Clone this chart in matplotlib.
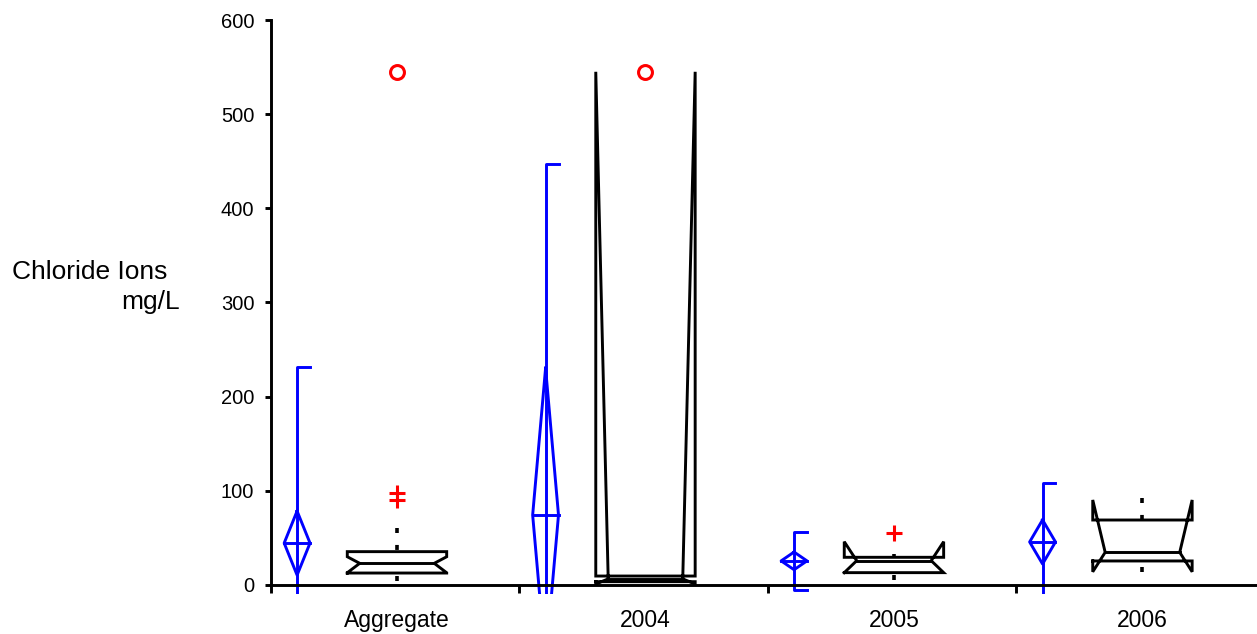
import matplotlib
matplotlib.use("Agg")
import matplotlib.pyplot as plt

plt.rcParams['font.family'] = ['Liberation Sans', 'DejaVu Sans']
plt.rcParams['lines.scale_dashes'] = False

groups = ['Aggregate', '2004', '2005', '2006']

# mean diamonds (blue): mean, diamond half height, whisker half length
means = [44.5, 74.3, 25.6, 45.7]
ci_half = [34.0, 156.0, 9.4, 23.4]
sd_half = [187.5, 372.7, 30.5, 62.3]

# notched boxes (black)
q1 = [12.7, 3.5, 13.1, 25.5]
medians = [23.0, 6.5, 25.8, 34.7]
q3 = [35.4, 9.5, 29.4, 69.0]
notch_lo = [13.0, 1.0, 13.1, 14.0]
notch_hi = [30.0, 545.0, 46.0, 90.3]
whisker_lo = [4.0, 3.0, 5.0, 14.0]
whisker_hi = [60.0, 10.0, 33.0, 92.0]

# outliers
near_out = [[90.5, 98.0], [], [55.5], []]
far_out = [[545.0], [545.0], [], []]

blue = '#0000ff'
lw = 2.1

fig = plt.figure(figsize=(12.57, 6.34), dpi=100)
ax = fig.add_axes([271 / 1257, 1 - 594.4 / 634, 1 - 271 / 1257, (594.4 - 20) / 634])

for i in range(len(groups)):
    # blue mean diamond
    bx = i + 0.105
    dw = 0.052
    m, c, s = means[i], ci_half[i], sd_half[i]
    ax.plot([bx, bx + dw, bx, bx - dw, bx], [m + c, m, m - c, m, m + c], color=blue, lw=lw)
    ax.plot([bx - dw, bx + dw], [m, m], color=blue, lw=lw)
    ax.plot([bx + dw, bx, bx, bx + dw], [m + s, m + s, m - s, m - s], color=blue, lw=lw)

    # notched box
    cx = i + 0.507
    hw = 0.2
    ins = 0.05
    L, R = cx - hw, cx + hw
    xs = [L, L, L + ins, L, L, R, R, R - ins, R, R, L]
    ys = [q1[i], notch_lo[i], medians[i], notch_hi[i], q3[i], q3[i], notch_hi[i], medians[i], notch_lo[i], q1[i], q1[i]]
    ax.plot(xs, ys, color='black', lw=lw, solid_joinstyle='miter')
    ax.plot([L + ins, R - ins], [medians[i], medians[i]], color='black', lw=lw)

    # whiskers
    ax.plot([cx, cx], [whisker_hi[i], q3[i]], color='black', lw=lw + 0.5, dashes=(3.6, 8.6))
    ax.plot([cx, cx], [whisker_lo[i], q1[i]], color='black', lw=lw + 0.5, dashes=(3.6, 8.6))

    # outliers
    for v in near_out[i]:
        ax.plot(cx, v, marker='+', color='red', ms=12, mew=2.2, ls='none')
    for v in far_out[i]:
        ax.plot(cx, v, marker='o', mfc='none', mec='red', ms=10, mew=2.2, ls='none')

ax.set_xlim(0, 3.968)
ax.set_ylim(-10, 600)

ax.spines['top'].set_visible(False)
ax.spines['right'].set_visible(False)
ax.spines['bottom'].set_position(('data', 0))
ax.spines['left'].set_bounds(0, 600)
ax.spines['left'].set_linewidth(lw)
ax.spines['bottom'].set_linewidth(lw)

ax.set_yticks(range(0, 601, 100))
ax.tick_params(axis='y', direction='out', length=4, width=lw, labelsize=14.5, pad=8)

ax.set_xticks([0, 1, 2, 3])
ax.set_xticklabels([])
ax.set_xticks([0.507, 1.507, 2.507, 3.507], minor=True)
ax.set_xticklabels(groups, minor=True)
ax.tick_params(axis='x', which='major', direction='out', length=6, width=lw)
ax.tick_params(axis='x', which='minor', length=0, labelsize=16.5, pad=17)

fig.text(12 / 1257, 1 - 272 / 634, 'Chloride Ions', fontsize=19, ha='left', va='center')
fig.text(180 / 1257, 1 - 302 / 634, 'mg/L', fontsize=19, ha='right', va='center')

fig.savefig('out.png', dpi=100)
